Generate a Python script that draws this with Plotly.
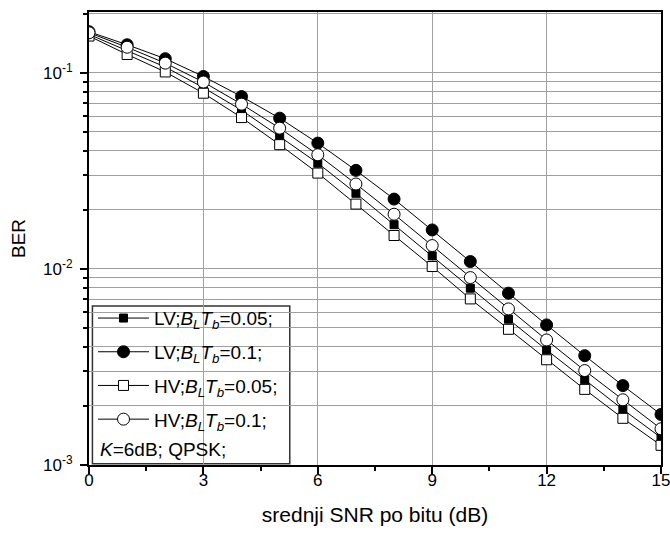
import plotly.graph_objects as go

snr_db = [0, 1, 2, 3, 4, 5, 6, 7, 8, 9, 10, 11, 12, 13, 14, 15]

ber_lv_005 = [0.157, 0.130, 0.107, 0.084, 0.0645, 0.0473, 0.0346, 0.0243, 0.0168, 0.01165,
              0.00797, 0.00554, 0.00386, 0.00272, 0.00192, 0.00138]
ber_lv_01 = [0.162, 0.139, 0.118, 0.0958, 0.0757, 0.0587, 0.0438, 0.0318, 0.0227, 0.0158,
             0.0109, 0.00752, 0.00518, 0.00361, 0.00254, 0.00181]
ber_hv_005 = [0.154, 0.124, 0.101, 0.0787, 0.0591, 0.043, 0.0308, 0.0214, 0.0148, 0.01028,
              0.00703, 0.00492, 0.00344, 0.00243, 0.00173, 0.00126]
ber_hv_01 = [0.160, 0.135, 0.112, 0.0897, 0.0692, 0.0522, 0.0382, 0.0271, 0.019, 0.01315,
             0.00903, 0.00625, 0.00434, 0.00303, 0.00215, 0.00153]

series_names = [
    "LV;<i>B</i><sub><i>L</i></sub><i>T</i><sub><i>b</i></sub>=0.05;",
    "LV;<i>B</i><sub><i>L</i></sub><i>T</i><sub><i>b</i></sub>=0.1;",
    "HV;<i>B</i><sub><i>L</i></sub><i>T</i><sub><i>b</i></sub>=0.05;",
    "HV;<i>B</i><sub><i>L</i></sub><i>T</i><sub><i>b</i></sub>=0.1;",
]
legend_note = "<i>K</i>=6dB; QPSK;"

x_tickvals = [0, 3, 6, 9, 12, 15]
y_tickvals = [0.001, 0.01, 0.1]
y_ticktext = ["10<sup>-3</sup>", "10<sup>-2</sup>", "10<sup>-1</sup>"]

x_title = "srednji SNR po bitu (dB)"
y_title = "BER"

FONT = "Liberation Sans, Arial, sans-serif"

styles = [
    dict(symbol="square", size=8, color="black", line=dict(color="black", width=1)),
    dict(symbol="circle", size=12, color="black", line=dict(color="black", width=1)),
    dict(symbol="square", size=10, color="white", line=dict(color="black", width=1)),
    dict(symbol="circle", size=12, color="white", line=dict(color="black", width=1)),
]

fig = go.Figure()
for i, (name, ys, st) in enumerate(zip(series_names, [ber_lv_005, ber_lv_01, ber_hv_005, ber_hv_01], styles)):
    fig.add_trace(go.Scatter(
        x=snr_db, y=ys, name=name, mode="lines+markers",
        legendgroup=f"g{i}",
        line=dict(color="black", width=1),
        marker=st,
    ))

grid_col = "#a0a0a0"
fig.update_layout(
    width=670, height=549,
    margin=dict(l=89, r=9, t=12, b=84),
    paper_bgcolor="white", plot_bgcolor="white",
    font=dict(family=FONT, color="black", size=17),
    showlegend=True,
    legend=dict(
        x=0.007, y=0.366, xanchor="left", yanchor="top",
        bgcolor="rgba(0,0,0,0)", borderwidth=0,
        font=dict(family=FONT, size=19, color="black"),
        itemwidth=51, traceorder="grouped", tracegroupgap=6,
    ),
    xaxis=dict(
        range=[0, 15], tickmode="array", tickvals=x_tickvals,
        ticks="outside", ticklen=7, tickwidth=1.5, tickcolor="black",
        showline=True, linecolor="black", linewidth=2, mirror=True,
        showgrid=True, gridcolor=grid_col, gridwidth=1,
        zeroline=False, automargin=False, ticklabelstandoff=-8, ticklabeloverflow="allow",
        minor=dict(ticks="outside", ticklen=4, tickwidth=1.5, tickcolor="black", dtick=1.5, showgrid=False),
        title=dict(text=x_title, font=dict(size=21), standoff=18),
        tickfont=dict(size=17),
    ),
    yaxis=dict(
        type="log", range=[-3, -0.69], tickmode="array", tickvals=y_tickvals, ticktext=y_ticktext,
        ticks="outside", ticklen=7, tickwidth=1.5, tickcolor="black",
        showline=True, linecolor="black", linewidth=2, mirror=True,
        showgrid=True, gridcolor=grid_col, gridwidth=1,
        zeroline=False, automargin=False, ticklabelstandoff=4, ticklabeloverflow="allow",
        minor=dict(ticks="outside", ticklen=4, tickwidth=1.5, tickcolor="black", dtick="D1",
                   showgrid=True, gridcolor=grid_col, gridwidth=1),
        title=dict(text=y_title, font=dict(size=19), standoff=12),
        tickfont=dict(size=17),
    ),
    shapes=[dict(
        type="rect", xref="paper", yref="paper", x0=0.006, x1=0.351, y0=0.003, y1=0.351,
        line=dict(color="#333333", width=1.5), fillcolor="white", layer="between",
    )],
)

fig.add_annotation(
    xref="paper", yref="paper", x=0.016, y=0.0353, xanchor="left", yanchor="middle",
    text=legend_note, showarrow=False, font=dict(family=FONT, size=19, color="black"),
)

# remove the default page margin so the 670x549 figure fills the window exactly
fig.write_html(
    "out.html",
    config={"displayModeBar": False},
    post_script="document.body.style.margin='0';document.body.style.overflow='hidden';",
)
